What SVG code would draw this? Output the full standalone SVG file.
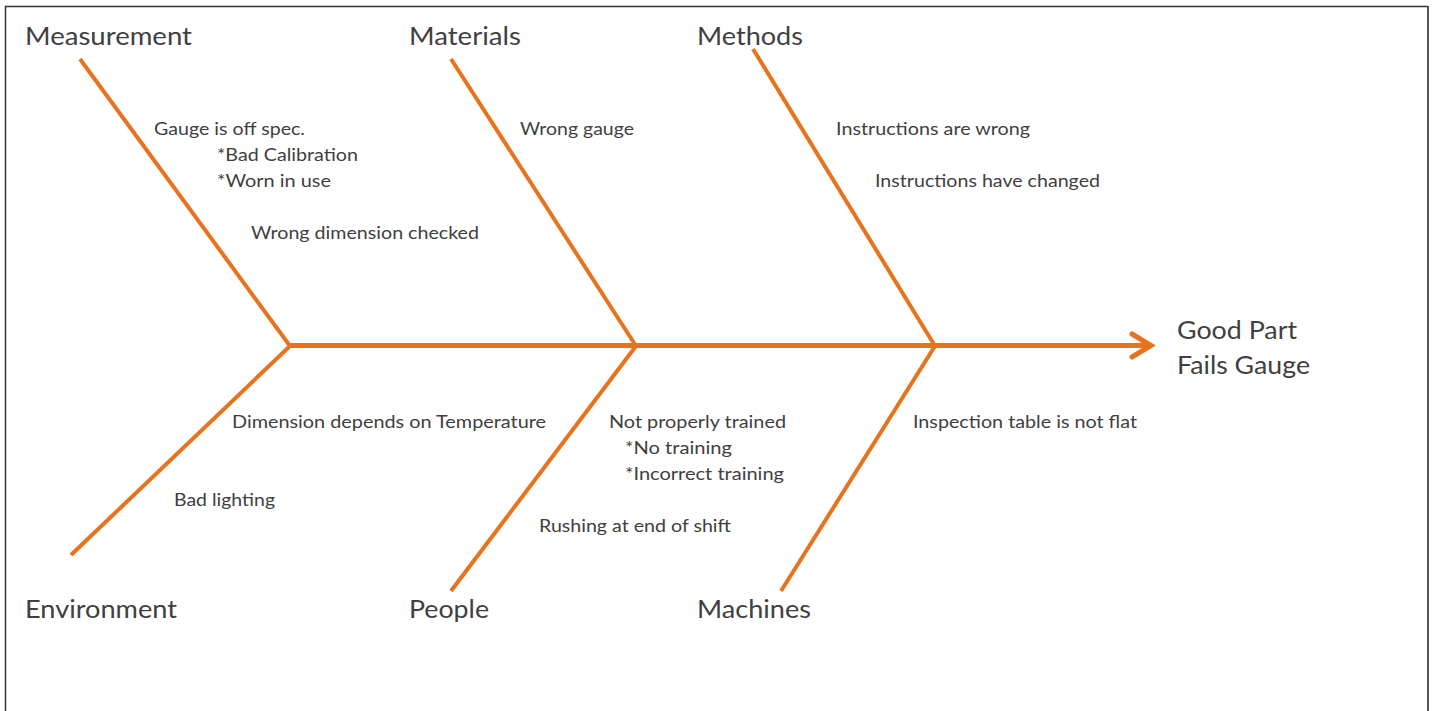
<svg xmlns="http://www.w3.org/2000/svg" width="1433" height="711" viewBox="0 0 1433 711">
<style>
.bone{stroke:#E8731E;stroke-width:4;fill:none;stroke-linecap:butt}
.spine{stroke:#E8731E;stroke-width:5;fill:none}
.head{font-family:"Lato","Open Sans","Liberation Sans",sans-serif;font-size:25px;fill:#404040}
.lbl{font-family:"Lato","Open Sans","Liberation Sans",sans-serif;font-size:17.5px;fill:#404040}
</style>
<rect x="0" y="0" width="1433" height="711" fill="#ffffff"/>
<path d="M5.5,720 V6.5 H1428" fill="none" stroke="#333" stroke-width="1.5"/>
<line x1="1428" y1="6" x2="1428" y2="720" stroke="#555" stroke-width="2"/>
<g id="connectors">
<line class="spine" x1="290" y1="345.5" x2="1150" y2="345.5"/>
<polyline class="spine" points="1132,334 1151,345.5 1132,357" stroke-linecap="round" stroke-linejoin="miter"/>
<line class="bone" x1="80" y1="59" x2="290" y2="346"/>
<line class="bone" x1="451" y1="59" x2="636" y2="346"/>
<line class="bone" x1="753" y1="49" x2="935" y2="346"/>
<line class="bone" x1="71" y1="555" x2="290" y2="346"/>
<line class="bone" x1="451" y1="591" x2="636" y2="346"/>
<line class="bone" x1="781" y1="591" x2="935" y2="346"/>
</g>
<g id="effect">
<text class="head" x="1177" y="339" textLength="120" lengthAdjust="spacingAndGlyphs">Good Part</text>
<text class="head" x="1177" y="374" textLength="133" lengthAdjust="spacingAndGlyphs">Fails Gauge</text>
</g>
<g id="measurement">
<text class="head" x="25" y="45" textLength="167" lengthAdjust="spacingAndGlyphs">Measurement</text>
<text class="lbl" x="154" y="135" textLength="151" lengthAdjust="spacingAndGlyphs">Gauge is off spec.</text>
<text class="lbl" x="217" y="161" textLength="141" lengthAdjust="spacingAndGlyphs">*Bad Calibration</text>
<text class="lbl" x="217" y="187" textLength="114" lengthAdjust="spacingAndGlyphs">*Worn in use</text>
<text class="lbl" x="251" y="239" textLength="228" lengthAdjust="spacingAndGlyphs">Wrong dimension checked</text>
</g>
<g id="materials">
<text class="head" x="409" y="45" textLength="112" lengthAdjust="spacingAndGlyphs">Materials</text>
<text class="lbl" x="520" y="135" textLength="114" lengthAdjust="spacingAndGlyphs">Wrong gauge</text>
</g>
<g id="methods">
<text class="head" x="697" y="45" textLength="106" lengthAdjust="spacingAndGlyphs">Methods</text>
<text class="lbl" x="836" y="135" textLength="194" lengthAdjust="spacingAndGlyphs">Instructions are wrong</text>
<text class="lbl" x="875" y="187" textLength="225" lengthAdjust="spacingAndGlyphs">Instructions have changed</text>
</g>
<g id="environment">
<text class="head" x="25" y="618" textLength="152" lengthAdjust="spacingAndGlyphs">Environment</text>
<text class="lbl" x="232" y="428" textLength="314" lengthAdjust="spacingAndGlyphs">Dimension depends on Temperature</text>
<text class="lbl" x="174" y="506" textLength="101" lengthAdjust="spacingAndGlyphs">Bad lighting</text>
</g>
<g id="people">
<text class="head" x="409" y="618" textLength="80" lengthAdjust="spacingAndGlyphs">People</text>
<text class="lbl" x="609" y="428" textLength="177" lengthAdjust="spacingAndGlyphs">Not properly trained</text>
<text class="lbl" x="625" y="454" textLength="107" lengthAdjust="spacingAndGlyphs">*No training</text>
<text class="lbl" x="625" y="480" textLength="159" lengthAdjust="spacingAndGlyphs">*Incorrect training</text>
<text class="lbl" x="539" y="532" textLength="192" lengthAdjust="spacingAndGlyphs">Rushing at end of shift</text>
</g>
<g id="machines">
<text class="head" x="697" y="618" textLength="114" lengthAdjust="spacingAndGlyphs">Machines</text>
<text class="lbl" x="913" y="428" textLength="224" lengthAdjust="spacingAndGlyphs">Inspection table is not flat</text>
</g>
</svg>
